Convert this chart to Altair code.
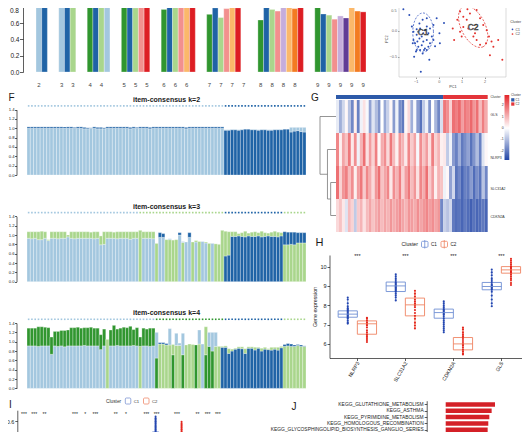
import altair as alt
import numpy as np
import pandas as pd

FONT = "Liberation Sans"
INK = "#1a1a1a"

# ======================= DATA =======================
PAL = {"LB": "#a3c7df", "DB": "#1f63a6", "LG": "#a9d68c", "DG": "#30962f",
       "PK": "#f2908e", "RD": "#dd1d23", "LO": "#fbb86a", "OR": "#f37b21",
       "LV": "#c5addb", "PU": "#603b95"}

# --- cluster-consensus bars (top-left) ---
cc_k = [2, 3, 4, 5, 6, 7, 8, 9]
cc_values = [
    [0.97, 0.98],
    [0.99, 0.96, 0.81],
    [0.84, 0.82, 0.86, 0.93],
    [0.84, 0.80, 0.79, 0.84, 0.92],
    [0.77, 0.82, 0.81, 0.82, 0.96, 0.93],
    [0.71, 0.79, 0.67, 0.78, 0.95, 0.79, 0.0],
    [0.64, 0.80, 0.77, 0.75, 0.82, 0.95, 0.78, 0.865],
    [0.95, 0.714, 0.70, 0.65, 0.69, 0.665, 0.95, 0.75, 0.74],
]
cc_colors = [
    ["LB", "DB"], ["LB", "DB", "LG"], ["DG", "DB", "LG", "LB"],
    ["DG", "DB", "LG", "PK", "RD"], ["DG", "DB", "LG", "PK", "LO", "RD"],
    ["DG", "DB", "LG", "PK", "LO", "RD", "PU"],
    ["DG", "DB", "LG", "PK", "LV", "LO", "OR", "RD"],
    ["DG", "DB", "LG", "PK", "LV", "PU", "LO", "OR", "RD"],
]
cc_ticks = [0, 0.2, 0.4, 0.6, 0.8, 1.0]

# --- PCA scatter ---
pca_c1_pc1 = [-1.54, -0.84, -1.28, 0.13, -0.09, 0.23, -0.23, 0.03, 0.05, -0.16, -0.41, -0.78, -1.07, -0.96,
              -1.10, -0.96, -0.89, -0.81, -0.74, -0.67, -0.52, -0.45, -0.38, -0.60, -1.10, -1.03, -0.89, -0.81,
              -0.74, -0.60, -0.52, -0.38, -0.23, -0.84, -0.70, -0.52, -1.17, -0.93, -0.99, -0.70, -0.64, -0.45,
              -0.67, -0.84, -0.52, -0.30, -0.96, -1.13]
pca_c1_pc2 = [0.41, 0.54, 0.30, 0.48, 0.24, 0.15, 0.11, -0.05, -0.24, -0.30, -0.56, -0.79, -0.50, -0.37,
              -0.18, -0.08, -0.02, 0.04, -0.11, -0.21, -0.18, -0.05, 0.04, 0.01, -0.02, -0.24, -0.31, -0.37,
              -0.28, -0.34, -0.37, -0.24, -0.18, 0.14, 0.21, 0.24, 0.08, -0.21, -0.40, -0.44, -0.37, -0.31,
              -0.05, -0.15, 0.08, -0.11, 0.03, -0.24]
pca_c2_pc1 = [0.57, 0.61, 0.67, 0.93, 1.36, 1.58, 1.65, 1.94, 2.09, 2.19, 2.30, 2.38, 2.23, 2.59, 2.77,
              1.80, 1.58, 1.22, 1.07, 0.93, 1.25, 1.87, 2.06, 1.80, 1.65, 1.51, 1.29, 1.07, 0.81, 1.00]
pca_c2_pc2 = [0.47, 0.04, -0.18, -0.02, 0.33, 0.53, 0.40, 0.11, 0.01, -0.11, -0.21, -0.31, -0.47, -0.18, -0.56,
              0.24, -0.05, 0.21, 0.27, 0.37, 0.41, 0.46, -0.24, -0.27, -0.18, -0.11, 0.04, 0.07, 0.21, -0.11]
# ellipse: centre x, centre y, axis-1 (dx, dy), axis-2 (dx, dy)
ell_c1 = [-0.68, -0.035, 0.45, 0.02, -0.03, 0.375]
ell_c2 = [1.50, 0.077, 0.435, -0.385, -0.466, -0.103]

# --- item-consensus (F) : 85 samples, bottom / top stacked segments ---
k2_cluster = "a" * 60 + "b" * 25
k2_bot_col = "a" * 60 + "b" * 25
k2_bot = [1.00, 1.00, 1.00, 1.00, 1.00, 1.00, 1.00, 1.00, 1.00, 1.00,
          1.00, 1.00, 1.00, 1.00, 1.00, 1.00, 1.00, 0.99, 0.99, 1.00,
          1.00, 0.99, 0.99, 0.99, 1.00, 1.00, 1.00, 1.00, 1.00, 1.00,
          1.00, 0.99, 1.00, 1.00, 1.00, 1.00, 1.00, 0.99, 1.00, 1.00,
          1.00, 1.00, 1.00, 1.00, 1.00, 1.00, 1.00, 1.00, 0.99, 1.00,
          1.00, 1.00, 1.00, 1.00, 1.00, 1.00, 1.00, 1.00, 1.00, 1.00,
          0.96, 0.96, 0.97, 0.97, 0.96, 0.97, 0.98, 0.98, 0.97, 0.97,
          0.96, 0.97, 0.97, 0.96, 0.96, 0.97, 0.97, 0.97, 0.98, 0.98,
          0.92, 0.94, 0.95, 0.93, 0.92]
k2_top_col = "b" * 60 + "a" * 25
k2_top = [0.03, 0.03, 0.03, 0.03, 0.03, 0.03, 0.03, 0.03, 0.03, 0.03,
          0.03, 0.03, 0.03, 0.03, 0.02, 0.03, 0.03, 0.03, 0.02, 0.01,
          0.03, 0.03, 0.03, 0.02, 0.03, 0.03, 0.03, 0.03, 0.03, 0.03,
          0.03, 0.03, 0.03, 0.02, 0.03, 0.03, 0.03, 0.03, 0.03, 0.03,
          0.03, 0.03, 0.03, 0.03, 0.03, 0.03, 0.03, 0.03, 0.03, 0.03,
          0.03, 0.03, 0.03, 0.03, 0.03, 0.03, 0.03, 0.03, 0.03, 0.03,
          0.01, 0.01, 0.01, 0.01, 0.01, 0.01, 0.00, 0.00, 0.01, 0.01,
          0.01, 0.01, 0.01, 0.01, 0.01, 0.01, 0.01, 0.01, 0.00, 0.00,
          0.10, 0.08, 0.07, 0.09, 0.10]

k3_cluster = "a" * 34 + "g" * 26 + "b" * 18 + "g" * 7
k3_bot_col = "a" * 34 + "g" + "aaaa" + "gaaggggagaagagaagaggg" + "b" * 18 + "g" * 7
k3_bot = [0.93, 0.92, 0.93, 0.90, 0.90, 0.93, 0.88, 0.93, 0.93, 0.92,
          0.93, 0.93, 0.96, 0.93, 0.92, 0.93, 0.93, 0.93, 0.93, 0.93,
          0.92, 0.93, 0.79, 0.80, 0.93, 0.93, 0.93, 0.92, 0.93, 0.93,
          0.93, 0.91, 0.93, 0.93, 1.10, 0.93, 0.93, 0.93, 0.92,
          0.82, 0.95, 0.95, 0.90, 0.90, 0.89, 0.90, 1.00, 0.84, 0.85,
          0.95, 0.85, 0.85, 0.86, 0.86, 0.83, 0.82, 0.82, 0.81, 0.80, 1.10,
          0.55, 0.57, 0.97, 0.97, 0.98, 0.97, 0.96, 0.98, 0.97, 0.97,
          0.98, 0.96, 0.97, 0.98, 0.97, 0.97, 0.96, 0.98,
          0.79, 0.79, 0.80, 0.79, 0.83, 0.83, 0.83]
k3_top_col = "g" * 39 + "abbaaaabagbagaggagaaa" + "g" * 18 + "b" * 7
k3_top = [0.14, 0.15, 0.14, 0.17, 0.18, 0.14, 0.02, 0.14, 0.14, 0.15,
          0.14, 0.14, 0.04, 0.14, 0.15, 0.14, 0.14, 0.14, 0.14, 0.13,
          0.15, 0.14, 0.19, 0.27, 0.14, 0.14, 0.13, 0.15, 0.14, 0.14,
          0.14, 0.16, 0.14, 0.14, 0.00, 0.14, 0.14, 0.14, 0.15,
          0.00, 0.10, 0.08, 0.00, 0.02, 0.00, 0.00, 0.05, 0.02, 0.00,
          0.10, 0.00, 0.03, 0.00, 0.00, 0.02, 0.00, 0.00, 0.00, 0.00, 0.00,
          0.53, 0.50, 0.10, 0.10, 0.05, 0.08, 0.12, 0.06, 0.09, 0.10,
          0.07, 0.12, 0.08, 0.06, 0.09, 0.11, 0.10, 0.07,
          0.28, 0.27, 0.26, 0.27, 0.22, 0.22, 0.22]

k4_cluster = "a" * 39 + "G" * 21 + "b" * 18 + "g" * 7
k4_bot_col = "a" * 24 + "g" + "a" * 9 + "g" + "aaaa" + "GggggGggGgggGgaGGGggb" + "b" * 18 + "g" * 7
k4_bot = [0.91, 0.91, 0.91, 0.90, 0.91, 0.91, 0.91, 0.73, 0.91, 0.90,
          0.91, 0.89, 0.91, 0.91, 0.91, 0.91, 0.91, 0.92, 0.91, 0.91,
          0.91, 0.91, 0.83, 0.91, 1.05, 0.91, 0.91, 0.92, 0.91, 0.91,
          0.91, 0.91, 0.92, 0.91, 0.90, 0.91, 0.91, 0.90, 0.91,
          0.65, 0.95, 0.95, 0.93, 0.93, 0.72, 0.92, 0.92, 0.72, 0.93,
          0.95, 0.94, 0.93, 0.95, 0.95, 0.72, 0.90, 0.80, 0.90, 0.90, 0.88,
          0.88, 0.75, 0.80, 0.84, 0.86, 0.85, 0.75, 0.86, 0.86, 0.82,
          0.86, 0.80, 0.84, 0.83, 0.82, 0.84, 0.82, 0.87,
          0.90, 0.91, 0.90, 0.90, 0.92, 0.90, 0.90]
k4_top_col = "G" * 39 + "abbbagaaaaaaaaGgaaaag" + "g" * 18 + "b" * 7
k4_top = [0.38, 0.38, 0.38, 0.42, 0.41, 0.40, 0.39, 0.37, 0.31, 0.32,
          0.33, 0.35, 0.34, 0.39, 0.39, 0.40, 0.38, 0.38, 0.39, 0.40,
          0.38, 0.38, 0.32, 0.36, 0.00, 0.34, 0.44, 0.35, 0.38, 0.40,
          0.39, 0.42, 0.34, 0.39, 0.20, 0.38, 0.36, 0.39, 0.38,
          0.55, 0.03, 0.03, 0.03, 0.35, 0.22, 0.26, 0.05, 0.46, 0.00,
          0.00, 0.00, 0.00, 0.30, 0.00, 0.60, 0.30, 0.40, 0.30, 0.00, 0.02,
          0.03, 0.10, 0.04, 0.02, 0.03, 0.04, 0.10, 0.03, 0.03, 0.06,
          0.02, 0.06, 0.04, 0.02, 0.06, 0.04, 0.06, 0.03,
          0.04, 0.05, 0.05, 0.03, 0.02, 0.03, 0.01]
f_ticks = [0, 0.2, 0.4, 0.6, 0.8, 1.0, 1.2, 1.4]

# --- heatmap (G): 36 C1 + 15 C2 samples ---
hm_genes = ["GLS", "NLRP3", "SLC31A2", "CDKN2A"]
hm_label_pos = [0.45, 1.77, 2.71, 3.54]
hm_gls = [-0.3, -1.2, -0.6, 0.1, -0.9, -1.8, 0.2, -1.9, -0.2, 0.4, -0.1, -1.4, -0.4, -1.0, -1.6, 0.0, -1.3, -0.7,
          0.1, -1.5, -0.2, -1.7, -2.0, 0.1, 0.5, -1.2, -0.1, -1.5, -2.1, -0.8, -0.2, -1.6, 0.0, -1.1, -1.8, -0.5,
          1.8, 1.5, 0.6, 1.9, 1.7, 2.0, 1.3, 1.8, 1.6, 2.0, 1.4, 1.9, 0.9, 1.7, 1.1]
hm_nlrp3 = [1.6, 0.2, 1.2, 0.8, 1.8, 0.3, 1.5, -0.2, 1.0, 1.9, 0.4, 1.3, 0.6, 1.7, 0.1, 1.1, 1.5, 0.5,
            1.8, 0.9, 0.2, 1.4, 1.0, 0.3, 1.6, 0.7, 1.2, -0.1, 1.5, 0.8, 1.3, 0.4, 1.7, 0.6, 1.0, 0.2,
            0.3, -0.8, -0.2, -1.5, -1.9, -1.2, -2.0, -1.7, -1.4, -2.1, -1.6, -1.0, -1.9, -0.4, 0.1]
hm_slc31a2 = [1.9, 0.6, 1.4, 1.7, 0.9, 1.5, 0.2, 1.3, 1.8, 0.7, 1.6, 1.1, 0.5, 1.4, 1.9, 0.8, 1.2, 1.6,
              0.3, 1.5, 1.0, 1.7, 0.6, 1.3, 1.8, 0.9, 1.4, 0.4, 1.6, 1.1, 1.9, 0.7, 1.3, 0.2, 1.0, 0.8,
              -0.2, 0.1, -1.4, -0.6, -2.1, -1.8, -2.3, -1.9, -2.0, -1.5, -2.2, -1.7, -2.1, -0.9, -1.8]
hm_cdkn2a = [0.5, 0.8, 0.3, -0.4, 0.9, 0.6, -0.8, 0.7, 1.0, 0.4, 0.9, 1.2, 0.8, 1.1, 1.3, 0.9, 1.2, 1.0,
             1.4, 1.1, 1.3, 1.5, 1.2, 1.0, 1.4, 1.3, 1.1, 1.5, 1.2, 1.4, 1.6, 1.3, 1.5, 1.2, 1.4, -1.8,
             -0.7, -0.9, -0.6, -2.0, -2.2, -2.1, -2.3, -2.0, -2.2, -2.4, -2.1, -2.3, -2.2, -2.0, -2.3]
hm_n_c1 = 36
hm_legend_ticks = [2, 1, 0, -1, -2]

# --- boxplot (H) ---
h_genes = ["NLRP3", "SLC31A2", "CDKN2A", "GLS"]
# lower whisker, q1, median, q3, upper whisker
h_c1_stats = [[7.04, 7.38, 7.54, 7.71, 8.37], [8.23, 8.71, 9.00, 9.20, 9.60],
              [6.55, 7.33, 7.62, 7.80, 8.19], [7.93, 8.80, 8.97, 9.18, 9.83]]
h_c2_stats = [[6.12, 6.50, 7.04, 7.19, 7.38], [6.81, 7.45, 8.02, 8.37, 8.75],
              [5.43, 5.69, 6.00, 6.33, 6.85], [9.05, 9.66, 9.83, 10.00, 10.40]]
h_c1_points = [
    [8.4, 8.3, 8.1, 7.95, 7.85, 7.8, 7.75, 7.7, 7.65, 7.6, 7.55, 7.5, 7.45, 7.4, 7.35, 7.3, 7.2, 7.1, 7.05],
    [9.6, 9.5, 9.4, 9.3, 9.2, 9.15, 9.1, 9.05, 9.0, 8.95, 8.9, 8.85, 8.8, 8.75, 8.7, 8.6, 8.5, 8.4, 8.25],
    [8.2, 8.1, 8.0, 7.9, 7.8, 7.75, 7.7, 7.65, 7.6, 7.55, 7.5, 7.4, 7.3, 7.2, 7.1, 7.0, 6.9, 6.8, 6.7, 6.6],
    [9.85, 9.7, 9.55, 9.4, 9.3, 9.2, 9.1, 9.05, 9.0, 8.95, 8.9, 8.85, 8.8, 8.7, 8.5, 8.3, 8.1, 7.95]]
h_c2_points = [
    [7.35, 7.3, 7.2, 7.1, 7.05, 7.0, 6.95, 6.85, 6.7, 6.6, 6.5, 6.4, 6.3, 6.2, 6.1],
    [8.75, 8.6, 8.45, 8.3, 8.2, 8.1, 8.05, 8.0, 7.9, 7.75, 7.6, 7.45, 7.3, 7.1, 6.95, 6.8],
    [6.85, 6.75, 6.6, 6.5, 6.4, 6.3, 6.2, 6.1, 6.0, 5.95, 5.9, 5.8, 5.7, 5.6, 5.5, 5.45],
    [10.4, 10.3, 10.2, 10.1, 10.0, 9.95, 9.9, 9.85, 9.8, 9.75, 9.7, 9.6, 9.5, 9.4, 9.3, 9.15, 9.05]]
h_sig = ["***", "***", "***", "***"]

# --- immune boxplot (I), only top visible ---
i_star_pos = [0, 1, 2, 5, 6, 7, 9, 10, 12, 13, 15, 17, 18, 19]
i_star_txt = ["***", "***", "**", "***", "*", "***", "**", "*", "***", "***", "***", "**", "***", "***"]
i_c1_cat13 = [0.637, 0.626, 0.619, 0.611, 0.601, 0.596, 0.585, 0.579, 0.569, 0.561, 0.553, 0.546, 0.535,
              0.529, 0.520, 0.512, 0.505, 0.497, 0.490, 0.478, 0.471, 0.460, 0.452, 0.441, 0.433]
i_c1_cat15 = [0.499, 0.490, 0.478, 0.466, 0.455]
i_c2_cat15 = [0.594, 0.582, 0.571, 0.563, 0.552, 0.544, 0.533, 0.527, 0.516, 0.508, 0.497, 0.489, 0.478,
              0.469, 0.455, 0.446]
# category, cluster, q1, median, q3, max
i_boxes = [[13, "C1", 0.40, 0.46, 0.51, 0.637], [15, "C1", 0.38, 0.44, 0.483, 0.50],
           [15, "C2", 0.37, 0.43, 0.47, 0.594]]
i_ticks = [0.6]

# --- KEGG bars (J) ---
j_terms = ["KEGG_GLUTATHIONE_METABOLISM", "KEGG_ASTHMA", "KEGG_PYRIMIDINE_METABOLISM",
           "KEGG_HOMOLOGOUS_RECOMBINATION", "KEGG_GLYCOSPHINGOLIPID_BIOSYNTHESIS_GANGLIO_SERIES"]
j_values = [2.35, 2.19, 2.08, 2.03, 2.00]


# ======================= HELPERS =======================
def S(dom, rng, **kw):
    return alt.Scale(domain=list(dom), range=list(rng), nice=False, zero=False, **kw)


def axis(orient, offset, values, size, tick, fmt=None, title=None, color=INK, **kw):
    d = dict(orient=orient, offset=offset, values=values, labelFontSize=size, labelFont=FONT,
             tickSize=tick, labelColor=color, tickColor=color, domainColor=color, domainWidth=0.7,
             tickWidth=0.7, grid=False, labelPadding=1, labelOverlap=False, labelFlush=False, title=title)
    if fmt:
        d["format"] = fmt
    d.update(kw)
    return alt.Axis(**d)


def txt(s, x, y, size, color=INK, align="left", baseline="alphabetic", weight="normal"):
    return alt.Chart(pd.DataFrame({"t": [s]})).mark_text(
        font=FONT, fontSize=size, color=color, align=align, baseline=baseline, fontWeight=weight
    ).encode(x=alt.value(x), y=alt.value(y), text="t:N")


def rects(df, xs, ys, xaxis=None, yaxis=None, **mk):
    return alt.Chart(df).mark_rect(**mk).encode(
        x=alt.X("x0:Q", scale=xs, axis=xaxis), x2="x1:Q",
        y=alt.Y("y0:Q", scale=ys, axis=yaxis), y2="y1:Q",
        color=alt.Color("col:N", scale=None))


def rules(df, xs, ys, width, **mk):
    return alt.Chart(df).mark_rule(strokeWidth=width, **mk).encode(
        x=alt.X("x0:Q", scale=xs, axis=None), x2="x1:Q",
        y=alt.Y("y0:Q", scale=ys, axis=None), y2="y1:Q",
        color=alt.Color("col:N", scale=None))


def dots(df, xs, ys, size, color, shape="circle"):
    return alt.Chart(df).mark_point(filled=True, size=size, color=color, shape=shape, opacity=1,
                                    strokeWidth=0).encode(
        x=alt.X("x:Q", scale=xs, axis=None), y=alt.Y("y:Q", scale=ys, axis=None))


layers = []

# ======================= top-left consensus bars =======================
cc_rows, cc_labs = [], []
start = 0
for k, vals, cols in zip(cc_k, cc_values, cc_colors):
    for j, (v, c) in enumerate(zip(vals, cols)):
        cc_rows.append(dict(x0=start + j, x1=start + j + 1, y0=v, y1=0.0, col=PAL[c]))
    for j in range(0, k, 2):
        cc_labs.append(dict(x=start + j + 0.5, t=str(k)))
    start += k + 2
ccx = lambda: S([0, 58], [36, 366])
ccy = lambda: S([0, 1], [72, -9.25])
layers.append(rects(pd.DataFrame(cc_rows), ccx(), ccy(),
                    yaxis=axis("left", -23, cc_ticks, 6.5, 3.5, fmt=".1f", labelPadding=0.5,
                               labelExpr="datum.value > 0.7 ? '' : format(datum.value, '.1f')"),
                    stroke="white", strokeWidth=0.3))
layers.append(txt("0.8", 19, 10.6, 6.5, align="right", baseline="middle"))
layers.append(alt.Chart(pd.DataFrame(cc_labs)).mark_text(font=FONT, fontSize=6, color="#444",
                                                         baseline="middle").encode(
    x=alt.X("x:Q", scale=ccx(), axis=None), y=alt.value(85), text="t:N"))

# ======================= PCA =======================
pcx = lambda: S([-1.73, 2.93], [399, 506])
pcy = lambda: S([-0.89, 0.59], [77, 0])
frame = pd.DataFrame({"x0": [-1.73], "x1": [2.93], "y0": [-0.89], "y1": [0.59], "col": ["#ffffff"]})
layers.append(rects(frame, pcx(), pcy(),
                    xaxis=axis("bottom", 77 - 442, [-1, 0, 1, 2], 3.8, 1.5, title="PC1", color="#666",
                               domain=False, titleFontSize=3.8, titleFontWeight="normal", titlePadding=1,
                               titleColor="#333", titleFont=FONT),
                    yaxis=axis("left", -399, [-0.5, 0, 0.5], 3.8, 1.5, fmt=".1f", title="PC2", color="#666",
                               domain=False, titleFontSize=3.8, titleFontWeight="normal", titlePadding=1,
                               titleColor="#333", titleFont=FONT,
                               labelExpr="datum.value > 0.3 ? '' : format(datum.value, '.1f')"),
                    fillOpacity=0, stroke="#c4c4c4", strokeWidth=0.6))
layers.append(txt("0.5", 396.5, 10.5, 3.8, color="#666", align="right", baseline="middle"))


def ellipse(p, n=90):
    t = np.linspace(0, 2 * np.pi, n)
    return pd.DataFrame({"x": p[0] + p[2] * np.cos(t) + p[4] * np.sin(t),
                         "y": p[1] + p[3] * np.cos(t) + p[5] * np.sin(t), "o": np.arange(n)})


for p, col in [(ell_c1, "#3555c0"), (ell_c2, "#e0302b")]:
    layers.append(alt.Chart(ellipse(p)).mark_line(strokeDash=[2, 1.5], strokeWidth=0.8, color=col).encode(
        x=alt.X("x:Q", scale=pcx(), axis=None), y=alt.Y("y:Q", scale=pcy(), axis=None), order="o:Q"))
layers.append(dots(pd.DataFrame({"x": pca_c1_pc1, "y": pca_c1_pc2}), pcx(), pcy(), 4, "#2b4fb6"))
layers.append(dots(pd.DataFrame({"x": pca_c2_pc1, "y": pca_c2_pc2}), pcx(), pcy(), 4, "#e3302c"))
layers.append(alt.Chart(pd.DataFrame({"x": [-0.68, 1.50], "y": [-0.03, 0.08], "t": ["C1", "C2"]})).mark_text(
    font=FONT, fontSize=8.5, fill="#ffffff", stroke="#222222", strokeWidth=0.55, baseline="middle").encode(
    x=alt.X("x:Q", scale=pcx(), axis=None), y=alt.Y("y:Q", scale=pcy(), axis=None), text="t:N"))
layers.append(txt("Cluster", 510.3, 23, 3.4, color="#333"))
layers.append(txt("C1", 515.5, 30.5, 3.3, color="#333"))
layers.append(txt("C2", 515.5, 35.2, 3.3, color="#333"))
for yy, col in [(29.3, "#2b4fb6"), (34.0, "#e3302c")]:
    layers.append(alt.Chart(pd.DataFrame({"a": [0]})).mark_point(filled=True, size=3, color=col, opacity=1).encode(
        x=alt.value(512.5), y=alt.value(yy)))

# ======================= F : item-consensus =======================
CODE = {"a": PAL["LB"], "b": PAL["DB"], "g": PAL["LG"], "G": PAL["DG"]}
fx = lambda: S([0, 85], [27, 306])
F_SETS = [
    (2, 175.0, 100.0, 105.9, k2_bot_col, k2_bot, k2_top_col, k2_top, k2_cluster),
    (3, 281.7, 206.7, 212.6, k3_bot_col, k3_bot, k3_top_col, k3_top, k3_cluster),
    (4, 388.4, 313.3, 319.3, k4_bot_col, k4_bot, k4_top_col, k4_top, k4_cluster),
]
for k, base, ty, dy, bc, bv, tc, tv, cl in F_SETS:
    rows = []
    for i in range(85):
        rows.append(dict(x0=i, x1=i + 1, y0=0.0, y1=bv[i], col=CODE[bc[i]]))
        if tv[i] > 0:
            rows.append(dict(x0=i, x1=i + 1, y0=bv[i], y1=bv[i] + tv[i], col=CODE[tc[i]]))
    fy = S([0, 1.4], [base, base - 1.4 * 46.7])
    layers.append(rects(pd.DataFrame(rows), fx(), fy,
                        yaxis=axis("left", -16.5, f_ticks, 4.2, 2, fmt=".1f", labelPadding=0.5),
                        stroke="white", strokeWidth=0.3))
    dd = pd.DataFrame({"x": [i + 0.5 for i in range(85)], "col": [CODE[c] for c in cl]})
    layers.append(alt.Chart(dd).mark_square(size=2.6, opacity=1).encode(
        x=alt.X("x:Q", scale=fx(), axis=None), y=alt.value(dy), color=alt.Color("col:N", scale=None)))
    layers.append(txt(f"item-consensus k={k}", 166.5, ty, 7, align="center", baseline="middle", weight="bold"))

# ======================= G : heatmap =======================
hx = lambda: S([0, 51], [336, 487.7])
hy = lambda: S([0, 4], [100, 232])
cells = []
for r, row in enumerate([hm_gls, hm_nlrp3, hm_slc31a2, hm_cdkn2a]):
    for i, v in enumerate(row):
        cells.append(dict(x0=i, x1=i + 1, y0=r, y1=r + 1, v=v))
layers.append(alt.Chart(pd.DataFrame(cells)).mark_rect().encode(
    x=alt.X("x0:Q", scale=hx(), axis=None), x2="x1:Q",
    y=alt.Y("y0:Q", scale=hy(), axis=None), y2="y1:Q",
    color=alt.Color("v:Q", scale=alt.Scale(domain=[-2.8, 0, 2.9], range=["#2245a6", "#ffffff", "#e3252a"],
                                           interpolate="rgb"), legend=None)))
ann = pd.DataFrame({"x0": [0, hm_n_c1], "x1": [hm_n_c1, 51], "y0": [-0.15, -0.15], "y1": [-0.03, -0.03],
                    "col": ["#2d5aa9", "#e3353a"]})
layers.append(rects(ann, hx(), hy()))
layers.append(alt.Chart(pd.DataFrame({"y": hm_label_pos, "t": hm_genes})).mark_text(
    font=FONT, fontSize=3.5, color="#333", align="left", baseline="middle").encode(
    x=alt.value(490.5), y=alt.Y("y:Q", scale=hy(), axis=None), text="t:N"))
layers.append(txt("Cluster", 490.5, 98.3, 3.2, color="#333"))
# dendrogram (merge heights)
dx = lambda: S([0, 3], [336, 320])
dendro = pd.DataFrame({
    "x0": [0, 0, 0, 0, 1.0, 1.0, 1.6, 1.6, 3.0],
    "x1": [3.0, 1.6, 1.0, 1.0, 1.0, 1.6, 1.6, 3.0, 3.0],
    "y0": [0.5, 1.5, 2.5, 3.5, 2.5, 3.0, 1.5, 2.25, 0.5],
    "y1": [0.5, 1.5, 2.5, 3.5, 3.5, 3.0, 3.0, 2.25, 2.25],
    "col": ["#7a7a7a"] * 9})
layers.append(rules(dendro, dx(), hy(), 0.8))
# colour bar
cby = lambda: S([-2.8, 2.9], [160, 95])
grad = alt.Gradient(gradient="linear", x1=0, x2=0, y1=0, y2=1,
                    stops=[alt.GradientStop(color="#e3252a", offset=0),
                           alt.GradientStop(color="#ffffff", offset=0.51),
                           alt.GradientStop(color="#2245a6", offset=1)])
layers.append(alt.Chart(pd.DataFrame({"a": [2.9], "b": [-2.8]})).mark_rect(fill=grad).encode(
    x=alt.value(504.5), x2=alt.value(509.3), y=alt.Y("a:Q", scale=cby(), axis=None), y2="b:Q"))
layers.append(alt.Chart(pd.DataFrame({"v": hm_legend_ticks, "t": [str(v) for v in hm_legend_ticks]})).mark_text(
    font=FONT, fontSize=3.5, color="#333", align="right", baseline="middle").encode(
    x=alt.value(503.6), y=alt.Y("v:Q", scale=cby(), axis=None), text="t:N"))
layers.append(txt("Cluster", 511, 96.3, 3.1, color="#333"))
for yy, col, lab in [(98.2, "#2d5aa9", "C1"), (102.4, "#e3353a", "C2")]:
    layers.append(alt.Chart(pd.DataFrame({"a": [0]})).mark_rect(color=col).encode(
        x=alt.value(511.2), x2=alt.value(514.4), y=alt.value(yy), y2=alt.value(yy + 3.3)))
    layers.append(txt(lab, 515.6, yy + 1.8, 3.0, color="#333", baseline="middle"))

# ======================= H : boxplots =======================
hbx = lambda: S([-0.58, 3.54], [329.5, 527.3])
hby = lambda: S([5.27, 10.6], [358, 255])
C1_LINE, C2_LINE, C1_PT, C2_PT = "#6f8ed4", "#ef8463", "#2446b0", "#e4261e"
boxes, whisk, meds, pts1, pts2 = [], [], [], [], []
for g in range(4):
    for stats, pts, lo_off, line, ptl in [(h_c1_stats[g], h_c1_points[g], -0.4, C1_LINE, pts1),
                                          (h_c2_stats[g], h_c2_points[g], 0.0, C2_LINE, pts2)]:
        x0, x1 = g + lo_off, g + lo_off + 0.4
        xc = (x0 + x1) / 2
        lo, q1, md, q3, hi = stats
        boxes.append(dict(x0=x0, x1=x1, y0=q1, y1=q3, col=line))
        whisk.append(dict(x0=xc, x1=xc, y0=lo, y1=q1, col=line))
        whisk.append(dict(x0=xc, x1=xc, y0=q3, y1=hi, col=line))
        meds.append(dict(x0=x0, x1=x1, y0=md, y1=md, col=line))
        for v in pts:
            ptl.append(dict(x=xc, y=v))
genes_expr = "[" + ",".join(f"'{g}'" for g in h_genes) + "][datum.value]"
layers.append(alt.Chart(pd.DataFrame(boxes)).mark_rect(fillOpacity=0, strokeWidth=0.9).encode(
    x=alt.X("x0:Q", scale=hbx(), axis=axis("bottom", 358 - 442, [0, 1, 2, 3], 5.2, 2.5, labelExpr=genes_expr,
                                           labelAngle=300, labelAlign="right", labelBaseline="middle")),
    x2="x1:Q",
    y=alt.Y("y0:Q", scale=hby(), axis=axis("left", -329.5, [6, 7, 8, 9, 10], 5.5, 2.5, title="Gene expression",
                                           titleFontSize=5.3, titleFontWeight="normal", titlePadding=2,
                                           titleFont=FONT, titleColor=INK)),
    y2="y1:Q", stroke=alt.Stroke("col:N", scale=None)))
layers.append(rules(pd.DataFrame(whisk), hbx(), hby(), 0.9))
layers.append(dots(pd.DataFrame(pts1), hbx(), hby(), 4.5, C1_PT))
layers.append(dots(pd.DataFrame(pts2), hbx(), hby(), 4.5, C2_PT))
layers.append(rules(pd.DataFrame(meds), hbx(), hby(), 0.9))
layers.append(alt.Chart(pd.DataFrame({"x": [0, 1, 2, 3], "y": [10.53] * 4, "t": h_sig})).mark_text(
    font=FONT, fontSize=5.5, color=INK, baseline="middle").encode(
    x=alt.X("x:Q", scale=hbx(), axis=None), y=alt.Y("y:Q", scale=hby(), axis=None), text="t:N"))
layers.append(txt("Cluster", 401.5, 245.5, 5.2, color=INK))
for x0, col, lab in [(421.5, C1_LINE, "C1"), (441.0, C2_LINE, "C2")]:
    layers.append(alt.Chart(pd.DataFrame({"a": [0]})).mark_rect(fillOpacity=0, stroke=col, strokeWidth=0.8,
                                                                cornerRadius=1).encode(
        x=alt.value(x0), x2=alt.value(x0 + 6.5), y=alt.value(241.3), y2=alt.value(247.3)))
    layers.append(alt.Chart(pd.DataFrame({"a": [0]})).mark_rule(color=col, strokeWidth=0.8).encode(
        x=alt.value(x0 + 3.25), y=alt.value(240), y2=alt.value(248.5)))
    layers.append(txt(lab, x0 + 9.5, 245.5, 4.6, color=INK))

# ======================= I : immune boxplots (top part) =======================
ix = lambda: S([0, 20], [24, 228])
iy = lambda: S([0.2, 0.69], [469, 410.2])
ib, iw = [], []
for cat, cl, q1, md, q3, hi in i_boxes:
    xc = cat - 0.1 if cl == "C1" else cat + 0.45
    col = "#7d95d3" if cl == "C1" else "#ef8a6c"
    fill = "#c3d0ef" if cl == "C1" else "#f6c8bb"
    ib.append(dict(x0=xc - 0.3, x1=xc + 0.3, y0=q1, y1=q3, col=fill, s=col))
    iw.append(dict(x0=xc, x1=xc, y0=q3, y1=hi, col=col))
ibdf = pd.DataFrame(ib)
layers.append(alt.Chart(ibdf).mark_rect(strokeWidth=0.8).encode(
    x=alt.X("x0:Q", scale=ix(), axis=None), x2="x1:Q",
    y=alt.Y("y0:Q", scale=iy(), axis=axis("left", -17.3, i_ticks, 5.5, 2.5, fmt=".1f")),
    y2="y1:Q", color=alt.Color("col:N", scale=None), stroke=alt.Stroke("s:N", scale=None)))
layers.append(rules(pd.DataFrame(iw), ix(), iy(), 0.8))
layers.append(dots(pd.DataFrame({"x": [12.9] * len(i_c1_cat13), "y": i_c1_cat13}), ix(), iy(), 4, "#2446b0"))
layers.append(dots(pd.DataFrame({"x": [14.9] * len(i_c1_cat15), "y": i_c1_cat15}), ix(), iy(), 4, "#2446b0"))
layers.append(dots(pd.DataFrame({"x": [15.45] * len(i_c2_cat15), "y": i_c2_cat15}), ix(), iy(), 4, "#e4261e"))
layers.append(alt.Chart(pd.DataFrame({"x": i_star_pos, "y": [0.661] * len(i_star_pos), "t": i_star_txt})).mark_text(
    font=FONT, fontSize=5, color=INK, baseline="middle").encode(
    x=alt.X("x:Q", scale=ix(), axis=None), y=alt.Y("y:Q", scale=iy(), axis=None), text="t:N"))
layers.append(txt("Cluster", 106, 402.8, 4.8, color="#333"))
for x0, col, lab in [(125.3, "#7d95d3", "C1"), (143.5, "#ef8a6c", "C2")]:
    layers.append(alt.Chart(pd.DataFrame({"a": [0]})).mark_rect(fillOpacity=0, stroke=col, strokeWidth=0.8,
                                                                cornerRadius=1).encode(
        x=alt.value(x0), x2=alt.value(x0 + 5.5), y=alt.value(398), y2=alt.value(404)))
    layers.append(txt(lab, x0 + 8.5, 402.8, 4.2, color="#333"))

# ======================= J : KEGG bars =======================
jx = lambda: S([0, 2.35], [445.7, 495])
jy = lambda: S([-0.6, 4.6], [400.7, 433.5])
jdf = pd.DataFrame({"x0": [0.0] * 5, "x1": j_values, "y0": [i - 0.36 for i in range(5)],
                    "y1": [i + 0.36 for i in range(5)], "col": ["#d42027"] * 5})
terms_expr = "[" + ",".join(f"'{t}'" for t in j_terms) + "][datum.value]"
layers.append(rects(jdf, jx(), jy(), yaxis=axis("left", -426.7, [0, 1, 2, 3, 4], 4.9, 2.5, labelExpr=terms_expr)))

# ======================= panel letters =======================
layers.append(txt("F", 8.5, 100.5, 10))
layers.append(txt("G", 311, 100.5, 10))
layers.append(txt("H", 315.5, 245.5, 11))
layers.append(txt("I", 9, 407.5, 10))
layers.append(txt("J", 291.5, 409.5, 10))

chart = alt.layer(*layers).resolve_scale(
    x="independent", y="independent", color="independent", stroke="independent"
).properties(
    width=530, height=442, autosize=alt.AutoSizeParams(type="none"),
    padding={"left": -8, "top": -8, "right": -8, "bottom": -10}
).configure_view(stroke=None).configure(font=FONT, background="white")

chart.save("out.html", embed_options={"renderer": "svg", "actions": False})
